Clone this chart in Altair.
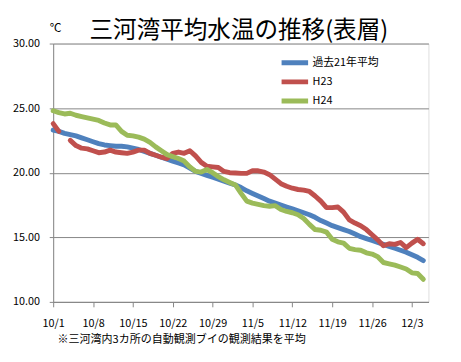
import altair as alt
import pandas as pd

FONT = "Noto Sans CJK JP"

tick_days = [0, 7, 14, 21, 28, 35, 42, 49, 56, 63]
tick_labels = ["10/1", "10/8", "10/15", "10/22", "10/29", "11/5", "11/12", "11/19", "11/26", "12/3"]
y_ticks = [10, 15, 20, 25, 30]

series_names = ["過去21年平均", "H23", "H24"]
series_colors = ["#4F81BD", "#C0504D", "#9BBB59"]

# daily values, 10/1 .. 12/5
avg21 = [23.3, 23.2, 23.05, 22.95, 22.85, 22.7, 22.55, 22.4, 22.25, 22.15,
         22.1, 22.05, 22.05, 22.0, 21.9, 21.8, 21.65, 21.5, 21.35, 21.2,
         21.05, 20.9, 20.75, 20.6, 20.35, 20.1, 19.95, 19.8, 19.65, 19.5,
         19.35, 19.2, 19.05, 18.85, 18.6, 18.4, 18.2, 18.0, 17.8, 17.65,
         17.5, 17.35, 17.2, 17.05, 16.9, 16.75, 16.55, 16.3, 16.1, 15.9,
         15.75, 15.6, 15.45, 15.25, 15.05, 14.9, 14.75, 14.6, 14.45, 14.3,
         14.15, 14.0, 13.85, 13.65, 13.45, 13.2]
h23 = [23.8, 23.2, None, 22.5, 22.1, 21.9, 21.85, 21.7, 21.55, 21.6,
       21.75, 21.6, 21.55, 21.5, 21.6, 21.75, 21.75, 21.5, 21.35, 21.2,
       21.1, 21.5, 21.6, 21.5, 21.7, 21.3, 20.8, 20.5, 20.45, 20.4,
       20.1, 20.0, 19.98, 19.95, 19.95, 20.15, 20.15, 20.05, 19.85, 19.5,
       19.15, 18.95, 18.8, 18.7, 18.65, 18.55, 18.2, 17.8, 17.3, 17.3,
       17.35, 16.95, 16.35, 16.1, 15.9, 15.6, 15.2, 14.8, 14.35, 14.5,
       14.45, 14.6, 14.2, 14.55, 14.85, 14.5]
h24 = [24.8, 24.65, 24.55, 24.6, 24.45, 24.35, 24.25, 24.15, 24.05, 23.85,
       23.7, 23.7, 23.2, 22.9, 22.85, 22.75, 22.6, 22.35, 22.0, 21.7,
       21.4, 21.25, 21.1, 20.9, 20.45, 20.1, 20.05, 20.25, 20.0, 19.7,
       19.45, 19.25, 19.05, 18.4, 17.8, 17.65, 17.55, 17.45, 17.4, 17.45,
       17.15, 17.0, 16.9, 16.75, 16.45, 16.0, 15.6, 15.55, 15.4, 14.85,
       14.65, 14.55, 14.15, 14.05, 14.0, 13.8, 13.7, 13.5, 13.05, 12.95,
       12.85, 12.7, 12.55, 12.25, 12.2, 11.75]

rows = []
for name, vals in zip(series_names, [avg21, h23, h24]):
    for d, v in enumerate(vals):
        rows.append({"series": name, "day": d, "temp": v})
df = pd.DataFrame(rows)

label_expr = "[" + ",".join("'%s'" % t for t in tick_labels) + "][round(datum.value / 7)]"

GRAY = "#868686"

chart = alt.Chart(df).mark_line(
    strokeWidth=5, strokeCap="round", strokeJoin="round",
    invalid="break-paths-show-domains"
).encode(
    x=alt.X("day:Q",
            scale=alt.Scale(domain=[0, 65.9], nice=False, zero=False),
            axis=alt.Axis(values=tick_days, labelExpr=label_expr, grid=False,
                          labelFlush=False,
                          domainColor=GRAY, tickColor=GRAY, tickSize=5,
                          labelFontSize=11, labelFont=FONT, labelColor="#000000",
                          labelPadding=11,
                          title="※三河湾内3カ所の自動観測ブイの観測結果を平均",
                          titleFont=FONT, titleFontSize=11.2, titleFontWeight="normal",
                          titleColor="#000000",
                          titleX=4, titleY=38, titleAlign="left", titleBaseline="middle")),
    y=alt.Y("temp:Q",
            scale=alt.Scale(domain=[10, 30], nice=False, zero=False),
            axis=alt.Axis(values=y_ticks, format=".2f", grid=True, gridColor=GRAY,
                          domainColor=GRAY, tickColor=GRAY, tickSize=4,
                          labelFontSize=11, labelFont=FONT, labelColor="#000000",
                          labelPadding=10,
                          title="℃", titleAngle=0, titleFont=FONT, titleFontSize=12,
                          titleFontWeight="normal", titleColor="#000000",
                          titleX=2, titleY=-16, titleAlign="center", titleBaseline="middle")),
    color=alt.Color("series:N",
                    scale=alt.Scale(domain=series_names, range=series_colors),
                    sort=series_names,
                    legend=alt.Legend(orient="none", legendX=230, legendY=13, title=None,
                                      symbolType="stroke", symbolSize=729,
                                      symbolStrokeWidth=5, labelFont=FONT,
                                      labelFontSize=11, labelColor="#000000",
                                      clipHeight=13,
                                      labelOffset=2, rowPadding=6.5, padding=0)),
    order=alt.Order("day:Q"),
).properties(
    width=382, height=263,
    padding={"left": 46, "top": 33, "right": 25, "bottom": 58},
    autosize=alt.AutoSizeParams(type="none"),
    title=alt.TitleParams("三河湾平均水温の推移(表層)", font=FONT, fontSize=24,
                          fontWeight="normal", color="#000000", anchor="start",
                          frame="group", dx=37, dy=25, offset=4),
).configure_view(stroke=None).configure(background="white")

chart.save("out.html", embed_options={"renderer": "svg", "actions": False})
